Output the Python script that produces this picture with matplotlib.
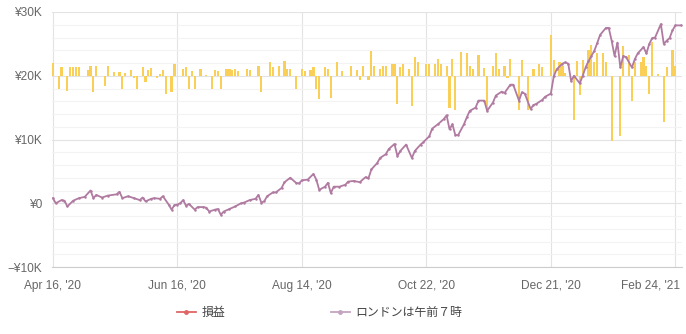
import matplotlib
matplotlib.use("Agg")
import matplotlib.pyplot as plt
from matplotlib.lines import Line2D
from matplotlib.ticker import FixedLocator, MultipleLocator
from matplotlib.transforms import ScaledTranslation

plt.rcParams['font.family'] = ['Liberation Sans', 'Noto Sans CJK JP', 'DejaVu Sans']

# ---- data (trade index based x axis) ----
tick_idx = [0, 43, 86, 129, 172, 215]
tick_labels = ["Apr 16, '20", "Jun 16, '20", "Aug 14, '20", "Oct 22, '20", "Dec 21, '20", "Feb 24, '21"]

y_ticks = [-10000, 0, 10000, 20000, 30000]
y_labels = ["\u2212¥10K", "¥0", "¥10K", "¥20K", "¥30K"]

# cumulative line (K yen)
line_idx = [0, 1, 3, 4, 5, 7, 9, 11, 13, 14, 15, 17, 19, 22, 23, 24, 26, 28, 30, 31,
            32, 34, 35, 37, 38, 40, 41, 42, 43, 44, 45, 46, 47, 49, 50, 52, 53, 54, 56, 57,
            58, 59, 61, 63, 65, 66, 68, 70, 71, 72, 73, 74, 76, 77, 79, 80, 82, 84, 85, 86,
            88, 90, 91, 92, 94, 95, 96, 97, 99, 101, 102, 104, 106, 108, 109, 110, 112, 113, 115, 116,
            118, 119, 120, 122, 124, 125, 127, 128, 130, 131, 133, 135, 136, 137, 138, 139, 140, 142, 143, 144,
            146, 147, 149, 150, 152, 153, 155, 156, 158, 159, 161, 162, 163, 165, 166, 167, 169, 170, 172, 173,
            174, 176, 177, 178, 179, 180, 182, 183, 184, 185, 186, 187, 188, 189, 191, 192, 193, 194, 195, 196,
            197, 198, 200, 201, 202, 204, 205, 206, 207, 208, 210, 211, 212, 213, 214, 215, 217]
line_val = [0.8, 0.0, 0.5, 0.4, -0.5, 0.4, 0.8, 1.0, 2.0, 0.8, 1.3, 0.9, 1.2, 1.4, 1.8, 0.8, 1.1, 0.8, 0.5, 0.9,
            0.3, 0.7, 0.8, 0.7, 1.1, -0.2, -1.0, -0.3, -0.2, 0.0, 0.5, -0.4, -0.1, -1.0, -0.6, -0.6, -0.7, -1.3, -1.0, -0.9,
            -1.8, -1.3, -0.9, -0.5, 0.0, 0.1, 0.5, 0.7, 1.3, 0.1, 0.3, 1.1, 1.7, 1.7, 2.4, 3.3, 4.0, 3.2, 3.1, 3.6,
            3.7, 4.6, 3.7, 2.1, 2.6, 3.2, 1.6, 2.6, 2.6, 2.9, 3.4, 3.5, 3.3, 4.1, 3.9, 5.3, 6.3, 7.1, 7.7, 8.5,
            9.3, 7.4, 8.2, 9.2, 7.1, 8.2, 9.2, 9.6, 10.5, 11.7, 12.4, 13.2, 13.8, 11.6, 12.4, 10.7, 10.7, 12.4, 13.5, 14.5,
            15.0, 16.1, 16.1, 14.5, 15.8, 16.9, 17.5, 17.3, 18.6, 18.6, 16.1, 17.4, 17.2, 14.8, 15.4, 15.6, 16.2, 16.7, 17.2, 19.9,
            21.0, 21.9, 22.1, 21.9, 19.2, 20.0, 18.8, 20.0, 21.3, 22.3, 23.1, 23.9, 25.1, 26.4, 27.5, 27.5, 25.5, 23.1, 25.2, 21.3,
            23.1, 22.9, 21.3, 22.6, 23.5, 24.5, 23.5, 25.0, 25.9, 26.0, 28.1, 25.0, 25.5, 25.9, 27.1, 27.9, 27.9]

# per-trade P/L bars (relative units)
bar_idx = [0, 2, 3, 5, 6, 7, 8, 9, 12, 13, 14, 15, 18, 19, 21, 23, 24, 25, 27, 28,
           29, 31, 32, 33, 34, 36, 37, 38, 39, 41, 42, 45, 46, 47, 48, 49, 51, 53, 55, 56,
           57, 58, 60, 61, 62, 63, 64, 67, 68, 71, 72, 75, 76, 78, 80, 81, 82, 84, 86, 87,
           89, 90, 91, 92, 94, 95, 96, 98, 100, 103, 105, 106, 107, 109, 110, 111, 113, 114, 115, 117,
           118, 119, 120, 121, 123, 124, 125, 126, 129, 130, 132, 133, 134, 136, 137, 138, 139, 141, 143, 144,
           145, 147, 149, 150, 152, 153, 154, 156, 157, 158, 161, 162, 164, 166, 168, 169, 172, 173, 175, 176,
           177, 180, 181, 182, 183, 185, 186, 187, 188, 190, 191, 193, 196, 197, 199, 200, 201, 203, 204, 205,
           206, 207, 209, 211, 212, 214, 215]
bar_val = [2.0, -2.1, 1.4, -2.4, 1.3, 1.3, 1.3, 1.3, 0.9, 1.6, -2.6, 1.6, -1.6, 1.5, 0.6, 0.6, -2.1, 0.4, 0.9, -0.4,
           -2.0, 1.4, -1.0, 0.9, 1.2, -0.3, 0.2, 0.9, -2.9, -2.5, 1.8, 1.0, 1.4, -2.0, 0.7, -2.0, 1.0, 0.1, -2.1, 0.9,
           0.7, -2.0, 1.0, 1.0, 0.9, 1.0, 0.7, 1.0, 0.9, 1.6, -2.5, 2.1, 1.4, 1.6, 2.3, 1.0, 1.0, -2.0, 1.0, 0.7,
           0.9, 1.3, -2.1, -3.6, 1.4, 1.0, -3.5, 2.1, 0.7, 1.6, 0.9, -0.6, 1.6, -0.6, 3.9, 1.6, 1.0, 1.6, 1.6, 1.8,
           1.8, -4.5, 1.4, 1.8, 1.0, -4.8, 2.9, 2.2, 1.8, 1.8, 1.9, 2.6, 1.9, 1.6, -5.0, 2.6, -5.3, 3.7, 3.6, 1.6,
           1.0, 3.3, 1.2, -5.6, 1.6, 3.6, 1.0, 1.5, -0.4, 2.6, -5.3, 2.4, -5.4, 1.0, 1.9, 1.4, 6.4, 2.4, 2.2, 1.6,
           0.4, -7.0, 2.3, -3.0, 2.4, 4.0, 4.8, 2.2, 3.6, 3.6, 2.1, -10.3, -9.5, 4.6, 3.3, -3.9, 2.2, 2.2, 3.0, 1.6,
           -2.9, 5.3, 0.2, -7.3, 1.4, 4.1, 1.6]

# ---- figure ----
W, H = 686, 334
fig = plt.figure(figsize=(W / 100, H / 100), dpi=100)
pos = [52 / W, 1 - 267 / H, (682 - 52) / W, (267 - 12) / H]

line_color = '#b07aa1'
bar_color = '#f9cf58'
grid_major = '#e3e3e3'
grid_minor = '#f3f3f3'
text_color = '#666666'

# background axes: grid + bars (bar scale, zero aligned to ¥20K)
axb = fig.add_axes(pos)
axb.set_ylim(-30, 10)
axb.yaxis.set_major_locator(MultipleLocator(10))
axb.yaxis.set_minor_locator(MultipleLocator(2))
axb.xaxis.set_major_locator(FixedLocator(tick_idx))
axb.grid(True, which='major', axis='both', color=grid_major, linewidth=0.8)
axb.grid(True, which='minor', axis='y', color=grid_minor, linewidth=0.8)
axb.set_axisbelow(True)
axb.tick_params(which='both', length=0, labelleft=False, labelbottom=False)
for s in axb.spines.values():
    s.set_visible(False)
axb.bar(bar_idx, bar_val, width=0.75, color=bar_color, linewidth=0, zorder=2)

# front axes: cumulative line
ax = fig.add_axes(pos, sharex=axb)
ax.patch.set_visible(False)
ax.plot(line_idx, [v * 1000 for v in line_val], color=line_color, linewidth=1.3,
        marker='o', markersize=1.8, markerfacecolor=line_color, markeredgewidth=0, zorder=3)
ax.set_ylim(-10000, 30000)
ax.set_yticks(y_ticks)
ax.set_yticklabels(y_labels)
ax.set_xlim(-0.3, 217.3)
ax.set_xticks(tick_idx)
ax.set_xticklabels(tick_labels)
ax.tick_params(axis='both', length=0, labelsize=8.6, labelcolor=text_color)
ax.tick_params(axis='x', pad=9)
ax.tick_params(axis='y', pad=7)
for name, s in ax.spines.items():
    s.set_visible(name == 'bottom')
ax.spines['bottom'].set_color('#cccccc')
ax.grid(False)

# keep the last date label inside the figure
last = ax.get_xticklabels()[-1]
last.set_horizontalalignment('right')
last.set_transform(last.get_transform() + ScaledTranslation(5 / 100, 0, fig.dpi_scale_trans))

handles = [
    Line2D([], [], color='#e06666', linewidth=1.3, marker='o', markersize=2.5),
    Line2D([], [], color='#c4a4c0', linewidth=1.3, marker='o', markersize=2.5),
]
fig.legend(handles, ['損益', 'ロンドンは午前７時'], loc='center',
           bbox_to_anchor=(0.466, 1 - 313 / H), ncol=2, frameon=False,
           columnspacing=8.8, handlelength=1.6, handletextpad=0.5,
           prop={'size': 8.6}, labelcolor='#444444')

fig.savefig('out.png', dpi=100)
